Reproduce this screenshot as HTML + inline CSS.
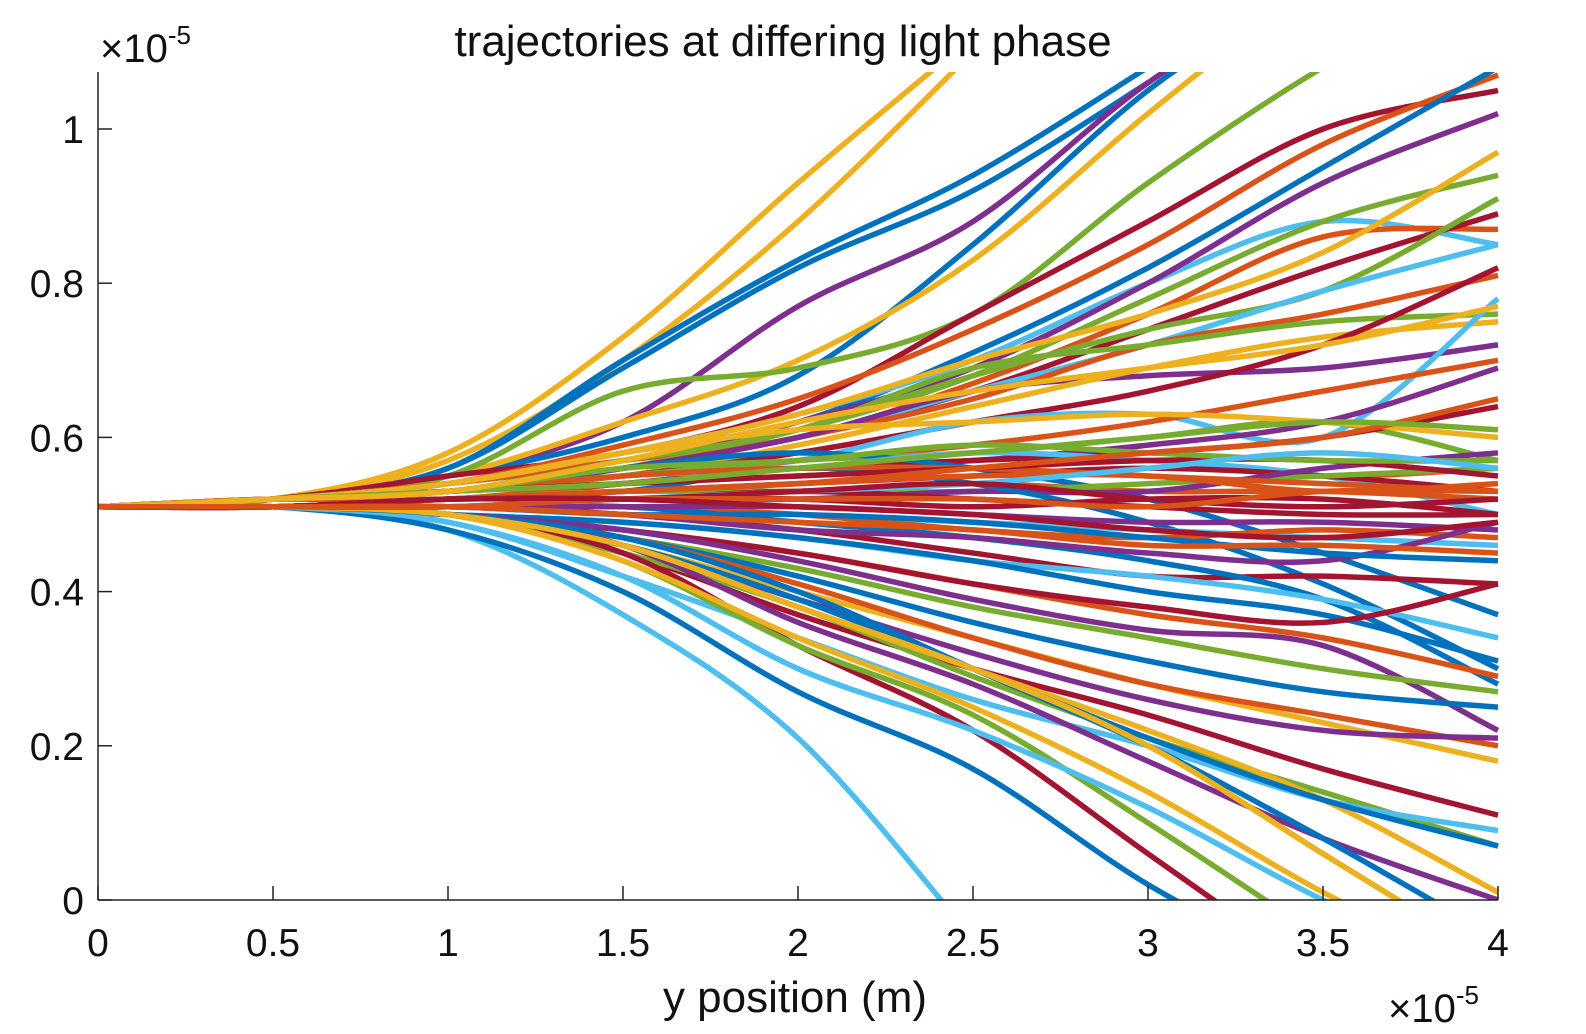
<!DOCTYPE html>
<html><head><meta charset="utf-8">
<style>
html,body{margin:0;padding:0;background:#fff;overflow:hidden;}
svg{display:block;font-family:"Liberation Sans",Arial,sans-serif;}
</style></head>
<body>
<svg id="chart" width="1586" height="1034" viewBox="0 0 1586 1034">
<defs><clipPath id="plotclip"><rect x="98" y="72" width="1402" height="828"/></clipPath></defs>
<text x="783" y="56" font-size="44" text-anchor="middle" fill="#111">trajectories at differing light phase</text>
<g id="series" clip-path="url(#plotclip)"></g>
<g id="axes"></g>
<text x="795" y="1012" font-size="44" text-anchor="middle" fill="#111">y position (m)</text>
<text x="1388" y="1022" font-size="40" fill="#111">×10<tspan font-size="26" dy="-18">-5</tspan></text>
<text x="100" y="62" font-size="40" fill="#111">×10<tspan font-size="26" dy="-18">-5</tspan></text>
</svg>
<script>
const xGrid=[0,0.5,1,1.5,2,2.5,3,3.5,4];
const xTicks=[0,0.5,1,1.5,2,2.5,3,3.5,4];
const xTickLabels=["0","0.5","1","1.5","2","2.5","3","3.5","4"];
const yTicks=[0,0.2,0.4,0.6,0.8,1];
const yTickLabels=["0","0.2","0.4","0.6","0.8","1"];
const palette=["#0072BD","#D95319","#EDB120","#7E2F8E","#77AC30","#4DBEEE","#A2142F"];
const seriesColors=[2,2,0,0,3,0,2,4,6,1,0,5,3,4,1,6,2,4,5,1,3,4,2,6,5,1,4,3,6,1,0,5,6,1,4,3,6,0,5,1,6,0,3,5,0,1,6,3,4,0,2,1,3,6,4,5,2,0,6,4,5,2,0,3,5,4,0,2,1,6,4,1,6,5,2,3,1,6,4,1,0,6,2,1];
const seriesValues=[
[.51,.52,.58,.73,.93,1.12],
[.51,.52,.57,.70,.88,1.10],
[.51,.52,.56,.70,.83,.94,1.08],
[.51,.52,.56,.69,.82,.92,1.06],
[.51,.52,.55,.62,.77,.88,1.06,1.2],
[.51,.52,.55,.60,.68,.85,1.05,1.2],
[.51,.52,.55,.62,.70,.83,1.02,1.2],
[.51,.52,.55,.66,.69,.76,.93,1.08,1.2],
[.51,.52,.55,.58,.64,.76,.88,1.0,1.05],
[.51,.52,.54,.59,.65,.74,.85,.98,1.07],
[.51,.52,.54,.58,.62,.71,.82,.95,1.08],
[.51,.52,.54,.58,.63,.70,.80,.88,.85],
[.51,.52,.54,.57,.62,.69,.80,.93,1.02],
[.51,.52,.54,.57,.61,.68,.78,.88,.94],
[.51,.52,.54,.57,.60,.67,.76,.86,.87],
[.51,.52,.53,.56,.60,.66,.74,.82,.89],
[.51,.52,.54,.58,.63,.70,.76,.84,.97],
[.51,.52,.53,.56,.61,.68,.74,.79,.91],
[.51,.52,.53,.56,.60,.66,.72,.79,.85],
[.51,.52,.53,.56,.60,.65,.72,.76,.81],
[.51,.52,.53,.56,.60,.66,.68,.69,.72],
[.51,.52,.53,.57,.61,.69,.72,.75,.76],
[.51,.52,.53,.55,.59,.64,.69,.73,.75],
[.51,.52,.53,.55,.58,.62,.66,.72,.82],
[.51,.52,.53,.55,.57,.62,.63,.60,.78],
[.51,.52,.53,.55,.57,.59,.62,.66,.70],
[.51,.52,.53,.55,.57,.58,.60,.62,.57],
[.51,.52,.52,.54,.56,.57,.59,.62,.69],
[.51,.52,.52,.54,.56,.57,.58,.60,.64],
[.51,.52,.52,.54,.55,.56,.57,.55,.56],
[.51,.52,.53,.56,.58,.56,.52,.45,.37],
[.51,.52,.53,.55,.56,.58,.57,.55,.50],
[.51,.51,.52,.53,.54,.55,.56,.55,.53],
[.51,.51,.52,.53,.53,.54,.53,.53,.52],
[.51,.51,.52,.53,.53,.53,.54,.55,.56],
[.51,.51,.52,.52,.52,.53,.53,.56,.58],
[.51,.51,.51,.52,.52,.51,.52,.52,.50],
[.51,.51,.52,.53,.56,.54,.49,.41,.30],
[.51,.51,.51,.51,.50,.49,.48,.47,.46],
[.51,.51,.51,.51,.50,.48,.47,.48,.47],
[.51,.51,.51,.50,.48,.45,.42,.42,.41],
[.51,.51,.51,.51,.49,.47,.44,.39,.28],
[.51,.51,.51,.50,.48,.47,.45,.44,.49],
[.51,.51,.50,.49,.47,.44,.42,.39,.34],
[.51,.51,.50,.49,.47,.44,.40,.37,.31],
[.51,.51,.50,.48,.45,.41,.37,.34,.29],
[.51,.51,.50,.48,.45,.41,.38,.36,.41],
[.51,.51,.50,.48,.44,.39,.35,.33,.22],
[.51,.51,.50,.47,.43,.38,.34,.30,.27],
[.51,.51,.50,.47,.42,.36,.31,.27,.25],
[.51,.51,.50,.46,.40,.34,.28,.23,.18],
[.51,.51,.50,.47,.41,.34,.28,.24,.20],
[.51,.51,.50,.46,.39,.32,.26,.22,.21],
[.51,.51,.50,.45,.37,.30,.24,.17,.11],
[.51,.51,.50,.45,.38,.29,.21,.14,.07],
[.51,.51,.49,.42,.34,.26,.20,.13,.09],
[.51,.51,.50,.46,.38,.30,.22,.13,.01],
[.51,.51,.50,.46,.39,.30,.21,.13,.07],
[.51,.51,.50,.45,.33,.22,.06,-.1],
[.51,.51,.50,.44,.33,.24,.10,-.05],
[.51,.51,.48,.37,.21,-.05],
[.51,.51,.50,.44,.34,.25,.14,.01,-.1],
[.51,.51,.48,.40,.27,.17,.02,-.1],
[.51,.51,.50,.46,.36,.28,.18,.08,0.0],
[.51,.51,.49,.42,.30,.22,.12,0.0,-.1],
[.51,.51,.50,.46,.38,.30,.20,.06,-.08],
[.51,.51,.50,.47,.40,.30,.20,.08,-.05],
[.51,.51,.50,.46,.38,.30,.20,.06,-.08],
[.51,.52,.53,.55,.56,.56,.55,.54,.53],
[.51,.52,.53,.54,.55,.56,.57,.57,.55],
[.51,.52,.53,.56,.57,.59,.58,.57,.57],
[.51,.52,.52,.53,.54,.55,.55,.53,.54],
[.51,.51,.52,.52,.53,.52,.51,.50,.50],
[.51,.51,.51,.52,.53,.54,.56,.58,.56],
[.51,.52,.54,.58,.61,.62,.63,.62,.60],
[.51,.51,.51,.51,.51,.50,.49,.49,.48],
[.51,.51,.52,.53,.54,.56,.58,.60,.65],
[.51,.51,.52,.52,.53,.54,.52,.51,.52],
[.51,.52,.53,.54,.56,.58,.60,.62,.61],
[.51,.51,.51,.52,.52,.52,.51,.53,.53],
[.51,.51,.51,.50,.50,.49,.47,.45,.44],
[.51,.51,.52,.52,.51,.50,.48,.47,.49],
[.51,.52,.53,.57,.62,.66,.69,.72,.77],
[.51,.51,.51,.50,.49,.48,.46,.46,.45]
];
const X0=98,X1=1498,Y0=900,PXY=771;
const sx=v=>X0+(v-0)/(4-0)*(X1-X0);
const sy=v=>Y0-v*PXY;
const NS="http://www.w3.org/2000/svg";
function pathFor(vals){
  const pts=vals.map((v,i)=>[sx(xGrid[i]),sy(v)]);
  let d="M"+pts[0][0]+","+pts[0][1];
  for(let i=0;i<pts.length-1;i++){
    const p0=pts[Math.max(0,i-1)],p1=pts[i],p2=pts[i+1],p3=pts[Math.min(pts.length-1,i+2)];
    const c1=[p1[0]+(p2[0]-p0[0])/6,p1[1]+(p2[1]-p0[1])/6];
    const c2=[p2[0]-(p3[0]-p1[0])/6,p2[1]-(p3[1]-p1[1])/6];
    d+=" C"+c1[0]+","+c1[1]+" "+c2[0]+","+c2[1]+" "+p2[0]+","+p2[1];
  }
  return d;
}
const g=document.getElementById("series");
seriesValues.forEach((vals,i)=>{
  const p=document.createElementNS(NS,"path");
  p.setAttribute("d",pathFor(vals));
  p.setAttribute("fill","none");
  p.setAttribute("stroke",palette[seriesColors[i%seriesColors.length]]);
  p.setAttribute("stroke-width","5.5");
  p.setAttribute("stroke-linejoin","round");
  
  
  g.appendChild(p);
});
const ax=document.getElementById("axes");
function mk(tag,attrs,name,text){
  const e=document.createElementNS(NS,tag);
  for(const k in attrs)e.setAttribute(k,attrs[k]);
  
  
  if(text!==undefined)e.textContent=text;
  ax.appendChild(e);return e;
}
mk("line",{x1:X0,y1:72,x2:X0,y2:Y0,stroke:"#222","stroke-width":1.5},"y-axis-line");
mk("line",{x1:X0,y1:Y0,x2:X1,y2:Y0,stroke:"#222","stroke-width":1.5},"x-axis-line");
xTicks.forEach((t,i)=>{
  mk("line",{x1:sx(t),y1:Y0,x2:sx(t),y2:Y0-14,stroke:"#222","stroke-width":1.5},"x-tick");
  mk("text",{x:sx(t),y:956,"font-size":39,"text-anchor":"middle",fill:"#111"},"x-tick-label",xTickLabels[i]);
});
yTicks.forEach((t,i)=>{
  mk("line",{x1:X0,y1:sy(t),x2:X0+14,y2:sy(t),stroke:"#222","stroke-width":1.5},"y-tick");
  mk("text",{x:84,y:sy(t)+14,"font-size":39,"text-anchor":"end",fill:"#111"},"y-tick-label",yTickLabels[i]);
});
</script>
</body></html>
